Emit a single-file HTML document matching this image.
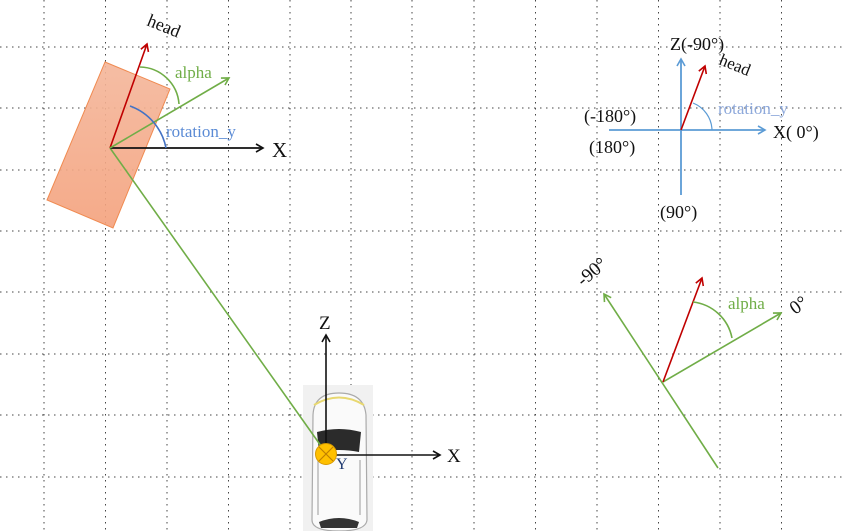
<!DOCTYPE html>
<html><head><meta charset="utf-8"><style>
html,body{margin:0;padding:0;background:#fff}
svg{display:block}
text{font-family:"Liberation Serif",serif}
</style></head><body>
<svg width="843" height="531" viewBox="0 0 843 531" xmlns="http://www.w3.org/2000/svg">
<defs>
<marker id="ak" markerWidth="10" markerHeight="10" refX="8" refY="5" orient="auto" markerUnits="userSpaceOnUse"><path d="M1,1 L8,5 L1,9" fill="none" stroke="#111" stroke-width="1.6"/></marker>
<marker id="ar" markerWidth="10" markerHeight="10" refX="8" refY="5" orient="auto" markerUnits="userSpaceOnUse"><path d="M1,1 L8,5 L1,9" fill="none" stroke="#c00000" stroke-width="1.6"/></marker>
<marker id="ag" markerWidth="10" markerHeight="10" refX="8" refY="5" orient="auto" markerUnits="userSpaceOnUse"><path d="M1,1 L8,5 L1,9" fill="none" stroke="#70ad47" stroke-width="1.6"/></marker>
<marker id="ab" markerWidth="10" markerHeight="10" refX="8" refY="5" orient="auto" markerUnits="userSpaceOnUse"><path d="M1,1 L8,5 L1,9" fill="none" stroke="#5b9bd5" stroke-width="1.6"/></marker>
<linearGradient id="rg" x1="0" y1="0" x2="0" y2="1"><stop offset="0" stop-color="#f4b69a"/><stop offset="1" stop-color="#f4a17c"/></linearGradient>
</defs>
<g stroke="#444" stroke-width="1" stroke-dasharray="1.5,4.5">
<line x1="44" y1="0" x2="44" y2="531"/><line x1="105.5" y1="0" x2="105.5" y2="531"/><line x1="167" y1="0" x2="167" y2="531"/><line x1="228.5" y1="0" x2="228.5" y2="531"/><line x1="290" y1="0" x2="290" y2="531"/><line x1="351" y1="0" x2="351" y2="531"/><line x1="412" y1="0" x2="412" y2="531"/><line x1="474" y1="0" x2="474" y2="531"/><line x1="535.5" y1="0" x2="535.5" y2="531"/><line x1="597" y1="0" x2="597" y2="531"/><line x1="658.5" y1="0" x2="658.5" y2="531"/><line x1="720" y1="0" x2="720" y2="531"/><line x1="781.5" y1="0" x2="781.5" y2="531"/>
<line x1="0" y1="47" x2="843" y2="47"/><line x1="0" y1="108" x2="843" y2="108"/><line x1="0" y1="170" x2="843" y2="170"/><line x1="0" y1="231" x2="843" y2="231"/><line x1="0" y1="292" x2="843" y2="292"/><line x1="0" y1="354" x2="843" y2="354"/><line x1="0" y1="415" x2="843" y2="415"/><line x1="0" y1="477" x2="843" y2="477"/>
</g>

<!-- car -->
<g>
<rect x="303" y="385" width="70" height="146" fill="#f1f1f1"/>
<path d="M313,415 Q314,393 339,393 Q364,393 366,415 L367,520 Q366,531 339,531 Q312,531 312,520 Z" fill="#fafafa" stroke="#aaa" stroke-width="1.2"/>
<path d="M314,405 Q339,390 364,405" fill="none" stroke="#e8d870" stroke-width="2"/>
<path d="M317,432 Q339,426 361,432 L359,452 Q339,448 319,452 Z" fill="#2b2b2b"/>
<path d="M319,522 Q339,514 359,522 L357,528 L321,528 Z" fill="#333"/>
<line x1="318" y1="460" x2="318" y2="515" stroke="#999" stroke-width="1"/>
<line x1="360" y1="460" x2="360" y2="515" stroke="#999" stroke-width="1"/>
</g>

<!-- left object -->
<polygon points="105,62 170,89 113,228 47,200" fill="url(#rg)" fill-opacity="0.9" stroke="#f08a50" stroke-width="1"/>
<line x1="110" y1="148" x2="326" y2="453" stroke="#70ad47" stroke-width="1.6"/>
<line x1="110" y1="148" x2="263" y2="148" stroke="#111" stroke-width="1.8" marker-end="url(#ak)"/>
<text x="272" y="157" font-size="21" fill="#111">X</text>
<line x1="110" y1="148" x2="147" y2="44" stroke="#c00000" stroke-width="1.6" marker-end="url(#ar)"/>
<line x1="110" y1="148" x2="229" y2="78" stroke="#70ad47" stroke-width="1.6" marker-end="url(#ag)"/>
<path d="M130,106 A56,56 0 0 1 166,148" fill="none" stroke="#4472c4" stroke-width="1.6"/>
<path d="M140,67 A40,40 0 0 1 179,104" fill="none" stroke="#70ad47" stroke-width="1.6"/>
<text x="146" y="25" font-size="18" fill="#111" transform="rotate(22 146 25)">head</text>
<text x="175" y="78" font-size="17" fill="#70ad47">alpha</text>
<text x="166" y="137" font-size="17" fill="#5b8bd5">rotation_y</text>

<line x1="326" y1="453" x2="326" y2="335" stroke="#111" stroke-width="1.6" marker-end="url(#ak)"/>
<line x1="326" y1="455" x2="440" y2="455" stroke="#111" stroke-width="1.6" marker-end="url(#ak)"/>
<text x="319" y="329" font-size="19" fill="#111">Z</text>
<text x="447" y="462" font-size="19" fill="#111">X</text>
<circle cx="326" cy="454" r="10.5" fill="#ffc000" stroke="#d89a00" stroke-width="1"/>
<path d="M319,447 L333,461 M333,447 L319,461" stroke="#c08000" stroke-width="1.2"/>
<text x="336" y="469" font-size="16" fill="#1f3a70">Y</text>

<!-- right top -->
<line x1="609" y1="130" x2="765" y2="130" stroke="#5b9bd5" stroke-width="1.8" marker-end="url(#ab)"/>
<line x1="681" y1="195" x2="681" y2="59" stroke="#5b9bd5" stroke-width="1.8" marker-end="url(#ab)"/>
<line x1="681" y1="130" x2="705" y2="66" stroke="#c00000" stroke-width="1.6" marker-end="url(#ar)"/>
<path d="M693,103 A30,30 0 0 1 712,130" fill="none" stroke="#5b9bd5" stroke-width="1.2"/>
<text x="670" y="50" font-size="18" fill="#111">Z(-90°)</text>
<text x="718" y="64" font-size="17" fill="#111" transform="rotate(22 718 64)">head</text>
<text x="718" y="114" font-size="17" fill="#8ea9db">rotation_y</text>
<text x="773" y="138" font-size="18" fill="#111">X( 0°)</text>
<text x="584" y="122" font-size="18" fill="#111">(-180°)</text>
<text x="589" y="153" font-size="18" fill="#111">(180°)</text>
<text x="660" y="218" font-size="18" fill="#111">(90°)</text>

<!-- right bottom -->
<line x1="718" y1="468" x2="604" y2="294" stroke="#70ad47" stroke-width="1.6" marker-end="url(#ag)"/>
<line x1="663" y1="382" x2="781" y2="313" stroke="#70ad47" stroke-width="1.6" marker-end="url(#ag)"/>
<line x1="663" y1="382" x2="702" y2="278" stroke="#c00000" stroke-width="1.6" marker-end="url(#ar)"/>
<path d="M693,302 A45,45 0 0 1 732,338" fill="none" stroke="#70ad47" stroke-width="1.6"/>
<text x="728" y="309" font-size="17" fill="#70ad47">alpha</text>
<text x="583" y="287" font-size="19" fill="#111" transform="rotate(-40 583 287)">-90°</text>
<text x="795" y="315" font-size="19" fill="#111" transform="rotate(-35 795 315)">0°</text>
</svg>
</body></html>
